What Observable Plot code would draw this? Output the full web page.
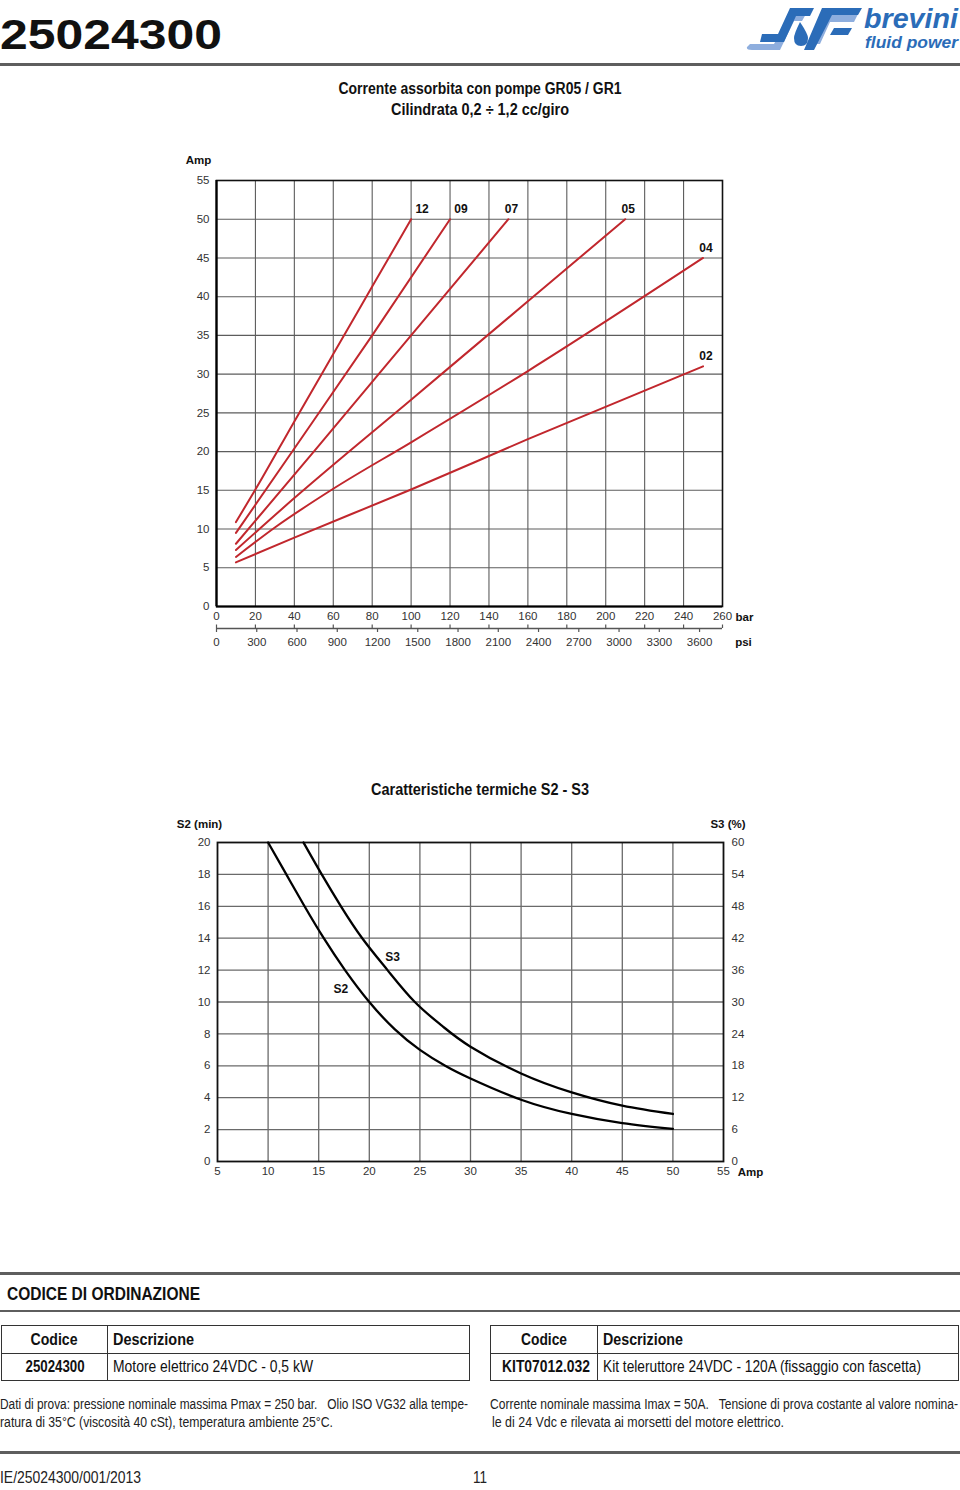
<!DOCTYPE html>
<html><head><meta charset="utf-8">
<script src="https://cdn.jsdelivr.net/npm/d3@7"></script>
<script src="https://cdn.jsdelivr.net/npm/@observablehq/plot@0.6"></script>
<style>
html,body{margin:0;padding:0;background:#fff;}
#page{position:relative;width:960px;height:1490px;overflow:hidden;font-family:"Liberation Sans",Arial,sans-serif;color:#111;}
.t{position:absolute;white-space:pre;display:inline-block;}
.rule{position:absolute;left:0;width:960px;background:#5e5e5e;}
.box{position:absolute;box-sizing:border-box;border:1.3px solid #333;}
.hl{position:absolute;height:1.3px;background:#333;}
.vl{position:absolute;width:1.3px;background:#333;}
.chart{position:absolute;left:0;}
</style></head><body>
<div id="page">
  <svg id="logo" style="position:absolute;left:744px;top:4px" width="216" height="52" viewBox="0 0 216 52">
    <path d="M6 40 L30 40 L46 10 L62 10 L58 17 L50 17 L36 46 L8 46 Q2 46 3 43 Z" fill="#8eaede"/>
    <path d="M18 30 L34 30 L46 4 L70 4 L66 12 L52 12 L40 38 L16 38 Z" fill="#2b6cb8"/>
    <path d="M56 18 Q50 30 50 34 Q50 42 57 42 Q64 42 64 34 Q64 30 56 18 Z" fill="#2b6cb8"/>
    <path d="M76 10 L114 10 L110 18 L86 18 L76 40 L66 40 Z" fill="#8eaede"/>
    <path d="M78 4 L118 4 L114 11 L88 11 L70 46 L60 46 Z" fill="#2b6cb8"/>
    <path d="M90 24 L108 24 L104 31 L86 31 Z" fill="#2b6cb8"/>
    <text x="120" y="24" font-family="Liberation Sans, Arial" font-weight="bold" font-style="italic" font-size="28" fill="#2b6cb8" textLength="94" lengthAdjust="spacingAndGlyphs">brevini</text>
    <text x="121" y="44" font-family="Liberation Sans, Arial" font-weight="bold" font-style="italic" font-size="17" fill="#2b6cb8" textLength="93" lengthAdjust="spacingAndGlyphs">fluid power</text>
  </svg>
</div>
<script>
// ---------------- DATA ----------------
const barTicks = [0,20,40,60,80,100,120,140,160,180,200,220,240,260];
const ampTicks = [0,5,10,15,20,25,30,35,40,45,50,55];
const psiTicks = [0,300,600,900,1200,1500,1800,2100,2400,2700,3000,3300,3600];
const psiPerBar = 14.5038;
const pumpCodes = ["12","09","07","05","04","02"];
// [pressure bar, current Amp]
const curve12 = [[10,10.9],[20,15.1],[40,23.9],[60,32.6],[80,41.3],[100,50]];
const curve09 = [[10,9.5],[40,20.4],[80,35],[120,50]];
const curve07 = [[10,8.1],[50,20],[100,35],[150,50]];
const curve05 = [[10,7.3],[40,14],[100,26.7],[160,39.4],[210,50]];
const curve04 = [[10,6.4],[30,10.2],[60,15.2],[100,21.2],[160,30.4],[250,45]];
const curve02 = [[10,5.7],[40,8.9],[100,15.1],[160,21.6],[250,31]];
const pumpCurves = [curve12, curve09, curve07, curve05, curve04, curve02];

// thermal chart
const thermAmpTicks = [5,10,15,20,25,30,35,40,45,50,55];
const s2Ticks = [0,2,4,6,8,10,12,14,16,18,20];
const s3TickLabels = [0,6,12,18,24,30,36,42,48,54,60];
const s2Amp = [10,11.8,13.6,15.5,17.6,20,22.5,25,27.5,30,35,40,45,50];
const s2Min = [20,18,16,14,12,10,8.3,7,6.0,5.2,3.87,2.98,2.4,2.04];
const s3Amp = [13.5,15.3,17.2,19.3,21.8,24.5,27.2,30,35,40,45,50];
const s3Pct = [60,54,48,42,36,30,25.5,21.6,16.56,13,10.5,8.94];
const curveLabels = ["S2","S3"];
const curveLabelAmp = [17.2,22.3];
const curveLabelMin = [10.8,12.8];

// ---------------- PAGE TEXT ----------------
const page = document.getElementById("page");
function txt(s, o){
  const d = document.createElement("div");
  d.className = "t"; d.textContent = s;
  d.style.fontSize = o.fs + "px";
  d.style.lineHeight = o.fs + "px";
  d.style.fontWeight = o.bold ? "bold" : "normal";
  d.style.color = o.color || "#111";
  page.appendChild(d);
  const w = d.getBoundingClientRect().width;
  const s_ = o.w / w;
  d.style.top = (o.cy - o.fs/2) + "px";
  d.style.left = o.x + "px";
  if (o.a === "middle") {
    d.style.transformOrigin = "50% 50%";
    d.style.transform = `translateX(-50%) scaleX(${s_})`;
  } else {
    d.style.transformOrigin = "0 50%";
    d.style.transform = `scaleX(${s_})`;
  }
  return d;
}
function rule(y, h){ const r=document.createElement("div"); r.className="rule"; r.style.top=(y-h/2)+"px"; r.style.height=h+"px"; page.appendChild(r); }
function el(cls, css){ const e=document.createElement("div"); e.className=cls; Object.assign(e.style, css); page.appendChild(e); }

txt("25024300", {x:0, cy:35, fs:42, bold:true, w:222});
rule(64.5, 2.2);
txt("Corrente assorbita con pompe GR05 / GR1", {x:480, cy:89, fs:16, bold:true, w:283, a:"middle"});
txt("Cilindrata 0,2 ÷ 1,2 cc/giro", {x:480, cy:110, fs:16, bold:true, w:178, a:"middle"});
txt("Caratteristiche termiche S2 - S3", {x:480, cy:790, fs:16, bold:true, w:218, a:"middle"});

rule(1273.5, 2.2);
txt("CODICE DI ORDINAZIONE", {x:7, cy:1293, fs:19, bold:true, w:193});
rule(1311, 1.5);

// tables
el("box", {left:"0.5px", top:"1325px", width:"469px", height:"56px"});
el("hl", {left:"0.5px", top:"1352.5px", width:"469px"});
el("vl", {left:"106.5px", top:"1325px", height:"56px"});
txt("Codice", {x:54, cy:1339.5, fs:16, bold:true, w:47, a:"middle"});
txt("Descrizione", {x:113, cy:1339.5, fs:16, bold:true, w:81});
txt("25024300", {x:54.5, cy:1367, fs:16, bold:true, w:59, a:"middle"});
txt("Motore elettrico 24VDC - 0,5 kW", {x:113.3, cy:1367, fs:16, w:200});

el("box", {left:"490px", top:"1325px", width:"469px", height:"56px"});
el("hl", {left:"490px", top:"1352.5px", width:"469px"});
el("vl", {left:"596.7px", top:"1325px", height:"56px"});
txt("Codice", {x:544, cy:1339.5, fs:16, bold:true, w:46, a:"middle"});
txt("Descrizione", {x:603.3, cy:1339.5, fs:16, bold:true, w:80});
txt("KIT07012.032", {x:546, cy:1367, fs:16, bold:true, w:88, a:"middle"});
txt("Kit teleruttore 24VDC - 120A (fissaggio con fascetta)", {x:603.3, cy:1367, fs:16, w:318});

txt("Dati di prova: pressione nominale massima Pmax = 250 bar.   Olio ISO VG32 alla tempe-", {x:0, cy:1404, fs:14, w:468, color:"#222"});
txt("ratura di 35°C (viscosità 40 cSt), temperatura ambiente 25°C.", {x:0, cy:1422, fs:14, w:333, color:"#222"});
txt("Corrente nominale massima Imax = 50A.   Tensione di prova costante al valore nomina-", {x:490, cy:1404, fs:14, w:468, color:"#222"});
txt("le di 24 Vdc e rilevata ai morsetti del motore elettrico.", {x:491.5, cy:1422, fs:14, w:292, color:"#222"});

rule(1452.5, 2.2);
txt("IE/25024300/001/2013", {x:0, cy:1478, fs:16, w:141, color:"#222"});
txt("11", {x:479.5, cy:1478, fs:16, w:14, a:"middle", color:"#222"});

// ---------------- CHART 1 ----------------
const red = "#c1272d";
const rows1 = pumpCodes.flatMap((c, i) => pumpCurves[i].map(([bar, amp]) => ({pump: c, bar, amp})));
const ends1 = pumpCodes.map((c, i) => { const p = pumpCurves[i][pumpCurves[i].length - 1]; return {pump: c, bar: p[0], amp: p[1]}; });
const baseStyle = {fontFamily: "'Liberation Sans', Arial, sans-serif", fontSize: "11.5px", color: "#333", background: "transparent", overflow: "visible"};
const gridStroke = {stroke: "#5c5c5c", strokeOpacity: 1, strokeWidth: 1.1};

const chart1 = Plot.plot({
  width: 960, height: 488,
  marginTop: 40, marginBottom: 22, marginLeft: 216, marginRight: 238,
  style: baseStyle,
  x: {domain: [0, 260], label: null, axis: null},
  y: {domain: [0, 55], label: null, axis: null},
  marks: [
    Plot.gridX(barTicks.slice(1, -1), gridStroke),
    Plot.gridY(ampTicks.slice(1, -1), gridStroke),
    Plot.axisX(barTicks, {tickSize: 0, tickPadding: 5, label: null}),
    Plot.axisY(ampTicks, {tickSize: 0, tickPadding: 7, label: null}),
    Plot.frame({stroke: "#111", strokeWidth: 1.6}),
    Plot.ruleX([0], {stroke: "#000", strokeWidth: 2.2}),
    Plot.ruleY([0], {stroke: "#000", strokeWidth: 2.2}),
    Plot.line(rows1, {x: "bar", y: "amp", z: "pump", stroke: red, strokeWidth: 2, curve: "monotone-x"}),
    Plot.text(ends1, {filter: d => d.pump === "12" || d.pump === "09", x: "bar", y: "amp", text: "pump", dx: 11, dy: -10, fontWeight: "bold", fontSize: 12, fill: "#111"}),
    Plot.text(ends1, {filter: d => !(d.pump === "12" || d.pump === "09"), x: "bar", y: "amp", text: "pump", dx: 3, dy: -10, fontWeight: "bold", fontSize: 12, fill: "#111"}),
    Plot.text(["Amp"], {frameAnchor: "top-left", textAnchor: "middle", lineAnchor: "middle", dx: -18, dy: -20, fontWeight: "bold", fill: "#111"}),
    Plot.text(["bar"], {frameAnchor: "bottom-right", textAnchor: "middle", lineAnchor: "middle", dx: 22, dy: 11, fontWeight: "bold", fill: "#111"})
  ]
});
chart1.classList.add("chart"); chart1.style.top = "140px";
page.appendChild(chart1);

const chart1psi = Plot.plot({
  width: 960, height: 34,
  marginTop: 0, marginBottom: 0, marginLeft: 216, marginRight: 238,
  style: baseStyle,
  x: {domain: [0, 260], axis: null},
  y: {domain: [0, 34], range: [0, 34], axis: null},
  marks: [
    Plot.ruleY([6], {x1: 0, x2: 260, stroke: "#555", strokeWidth: 1.3}),
    Plot.ruleX(barTicks, {y1: 2.5, y2: 6, stroke: "#555", strokeWidth: 1.2}),
    Plot.ruleX(psiTicks, {x: p => p / psiPerBar, y1: 6, y2: 10, stroke: "#555", strokeWidth: 1.2}),
    Plot.text(psiTicks, {x: p => p / psiPerBar, y: 19.5, text: d => String(d), fill: "#333"}),
    Plot.text(["psi"], {x: 260, y: 19.5, dx: 21, fontWeight: "bold", fill: "#111"})
  ]
});
chart1psi.classList.add("chart"); chart1psi.style.top = "622px";
page.appendChild(chart1psi);

// ---------------- CHART 2 ----------------
const rows2 = [
  ...s2Amp.map((a, i) => ({curve: "S2", amp: a, v: s2Min[i]})),
  ...s3Amp.map((a, i) => ({curve: "S3", amp: a, v: s3Pct[i] / 3}))
];
const labels2 = curveLabels.map((c, i) => ({c, amp: curveLabelAmp[i], v: curveLabelMin[i]}));
const grid2 = {stroke: "#6a6a6a", strokeOpacity: 1, strokeWidth: 1.3};

const chart2 = Plot.plot({
  width: 960, height: 378,
  marginTop: 37, marginBottom: 22, marginLeft: 217, marginRight: 237,
  style: baseStyle,
  x: {domain: [5, 55], label: null, axis: null},
  y: {domain: [0, 20], label: null, axis: null},
  marks: [
    Plot.gridX(thermAmpTicks.slice(1, -1), grid2),
    Plot.gridY(s2Ticks.slice(1, -1), grid2),
    Plot.axisX(thermAmpTicks, {tickSize: 0, tickPadding: 5, label: null}),
    Plot.axisY(s2Ticks, {anchor: "left", tickSize: 0, tickPadding: 7, label: null}),
    Plot.axisY(s2Ticks, {anchor: "right", tickSize: 0, tickPadding: 8, label: null, tickFormat: d => String(s3TickLabels[s2Ticks.indexOf(d)])}),
    Plot.frame({stroke: "#111", strokeWidth: 1.8}),
    Plot.line(rows2, {x: "amp", y: "v", z: "curve", stroke: "#000", strokeWidth: 2.3, curve: "natural"}),
    Plot.text(labels2, {x: "amp", y: "v", text: "c", fontWeight: "bold", fontSize: 12, fill: "#111"}),
    Plot.text(["S2 (min)"], {frameAnchor: "top-left", textAnchor: "middle", lineAnchor: "middle", dx: -18, dy: -18, fontWeight: "bold", fill: "#111"}),
    Plot.text(["S3 (%)"], {frameAnchor: "top-right", textAnchor: "middle", lineAnchor: "middle", dx: 4.5, dy: -18, fontWeight: "bold", fill: "#111"}),
    Plot.text(["Amp"], {frameAnchor: "bottom-right", textAnchor: "middle", lineAnchor: "middle", dx: 27, dy: 11, fontWeight: "bold", fill: "#111"})
  ]
});
chart2.classList.add("chart"); chart2.style.top = "805px";
page.appendChild(chart2);
</script>
</body></html>
